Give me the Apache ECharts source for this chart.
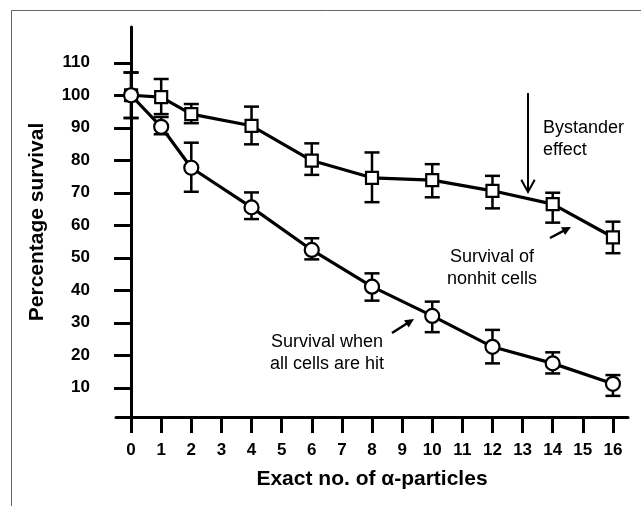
<!DOCTYPE html>
<html>
<head>
<meta charset="utf-8">
<script src="https://cdn.jsdelivr.net/npm/echarts@6/dist/echarts.min.js"></script>
<style>
html,body{margin:0;padding:0;background:#fff;}
#chart{width:641px;height:506px;}
</style>
</head>
<body>
<div id="chart"></div>
<script>
// ---- data ----
var particles = [0, 1, 2, 4, 6, 8, 10, 12, 14, 16];
var hitMean = [100, 90.3, 77.7, 65.5, 52.4, 41.1, 32.1, 22.6, 17.5, 11.2];
var hitLow  = [93, 88, 70.3, 61.9, 49.5, 36.8, 27.1, 17.5, 14.4, 7.5];
var hitHigh = [107, 93.3, 85.4, 70.1, 56, 45.2, 36.5, 27.8, 20.9, 13.9];
var nonhitMean = [100, 99.4, 94.2, 90.6, 79.9, 74.6, 73.9, 70.6, 66.5, 56.3];
var nonhitLow  = [93, 94.2, 91.4, 84.9, 75.5, 67.1, 68.6, 65.2, 60.8, 51.4];
var nonhitHigh = [107, 105, 97.3, 96.5, 85.2, 82.4, 78.8, 75.2, 70.0, 61.1];
var xTicks = [0,1,2,3,4,5,6,7,8,9,10,11,12,13,14,15,16];
var yTicks = [10,20,30,40,50,60,70,80,90,100,110];

var FONT = '"Liberation Sans", Arial, Helvetica, sans-serif';

function pairs(xs, ys){ return xs.map(function(x,i){ return [x, ys[i]]; }); }
function errData(xs, lo, hi){ return xs.map(function(x,i){ return [x, lo[i], hi[i]]; }); }

function errRender(params, api){
  var x = api.value(0), lo = api.value(1), hi = api.value(2);
  var pLo = api.coord([x, lo]), pHi = api.coord([x, hi]);
  var w = 7.5;
  var st = {stroke:'#000', lineWidth:2.5};
  return {type:'group', children:[
    {type:'line', shape:{x1:pLo[0],y1:pLo[1],x2:pHi[0],y2:pHi[1]}, style:st},
    {type:'line', shape:{x1:pLo[0]-w,y1:pLo[1],x2:pLo[0]+w,y2:pLo[1]}, style:st},
    {type:'line', shape:{x1:pHi[0]-w,y1:pHi[1],x2:pHi[0]+w,y2:pHi[1]}, style:st}
  ]};
}

function arrow(x1,y1,x2,y2,open){
  var ang = Math.atan2(y2-y1, x2-x1);
  var L = open ? 14 : 10, W = open ? 0.5 : 0.45;
  var a1 = [x2 - L*Math.cos(ang-W), y2 - L*Math.sin(ang-W)];
  var a2 = [x2 - L*Math.cos(ang+W), y2 - L*Math.sin(ang+W)];
  var els = [];
  if (open){
    els.push({type:'line', shape:{x1:x1,y1:y1,x2:x2,y2:y2}, style:{stroke:'#000',lineWidth:2}});
    els.push({type:'polyline', shape:{points:[a1,[x2,y2],a2]}, style:{stroke:'#000',lineWidth:2,fill:null}});
  } else {
    var bx = x2 - L*0.8*Math.cos(ang), by = y2 - L*0.8*Math.sin(ang);
    els.push({type:'line', shape:{x1:x1,y1:y1,x2:bx,y2:by}, style:{stroke:'#000',lineWidth:2.5}});
    els.push({type:'polygon', shape:{points:[a1,[x2,y2],a2]}, style:{fill:'#000'}});
  }
  return els;
}

var txtStyle = {font:'18px ' + FONT, fill:'#000', lineHeight:22};

var graphics = [
  {type:'rect', shape:{x:11.5,y:10.5,width:700,height:600}, style:{stroke:'#666',lineWidth:1,fill:null}, z:-10}
].concat(
  arrow(528,93,528,192,true),
  arrow(550,238,571,227,false),
  arrow(392,333,414,319,false)
).concat([
  {type:'text', x:543, y:117, style:Object.assign({text:'Bystander\neffect', align:'left', verticalAlign:'top'}, txtStyle)},
  {type:'text', x:492, y:246, style:Object.assign({text:'Survival of\nnonhit cells', align:'center', verticalAlign:'top'}, txtStyle)},
  {type:'text', x:327, y:331, style:Object.assign({text:'Survival when\nall cells are hit', align:'center', verticalAlign:'top'}, txtStyle)}
]);

var chart = echarts.init(document.getElementById('chart'), null, {renderer:'canvas'});
chart.setOption({
  animation:false,
  backgroundColor:'#fff',
  grid:{left:116, right:13, top:27, bottom:89, containLabel:false},
  xAxis:{
    type:'value', min:-0.5, max:16.5,
    name:'Exact no. of α-particles', nameLocation:'middle', nameGap:52,
    nameTextStyle:{fontFamily:FONT, fontWeight:'bold', fontSize:21, color:'#000'},
    axisLine:{lineStyle:{color:'#000', width:3}},
    axisTick:{show:true, length:16, lineStyle:{color:'#000', width:3}, customValues:xTicks},
    axisLabel:{customValues:xTicks, margin:25, fontFamily:FONT, fontWeight:'bold', fontSize:17, color:'#000'},
    splitLine:{show:false}
  },
  yAxis:{
    type:'value', min:1, max:121,
    name:'Percentage survival', nameLocation:'middle', nameGap:68,
    nameTextStyle:{fontFamily:FONT, fontWeight:'bold', fontSize:21, color:'#000'},
    axisLine:{show:true, lineStyle:{color:'#000', width:3}},
    axisTick:{show:true, length:17, lineStyle:{color:'#000', width:3}, customValues:yTicks},
    axisLabel:{customValues:yTicks, margin:26, fontFamily:FONT, fontWeight:'bold', fontSize:17, color:'#000'},
    splitLine:{show:false}
  },
  series:[
    {type:'custom', name:'hitErr', renderItem:errRender, data:errData(particles, hitLow, hitHigh), z:1},
    {type:'custom', name:'nonhitErr', renderItem:errRender, data:errData(particles, nonhitLow, nonhitHigh), z:1},
    {type:'line', name:'Survival of nonhit cells', data:pairs(particles, nonhitMean), symbol:'rect', symbolSize:12,
      lineStyle:{color:'#000', width:3.2}, itemStyle:{color:'#fff', borderColor:'#000', borderWidth:2.2}, z:3},
    {type:'line', name:'Survival when all cells are hit', data:pairs(particles, hitMean), symbol:'circle', symbolSize:14,
      lineStyle:{color:'#000', width:3.2}, itemStyle:{color:'#fff', borderColor:'#000', borderWidth:2.2}, z:4}
  ],
  graphic:graphics
});
</script>
</body>
</html>
